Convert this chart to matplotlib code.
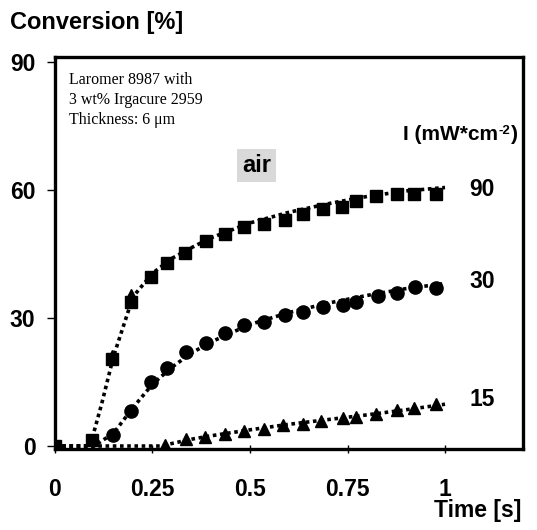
import matplotlib
matplotlib.use("Agg")
import matplotlib.pyplot as plt

plt.rcParams['font.family'] = ['Liberation Sans', 'DejaVu Sans']

# measured points (time in s, conversion in %)
t90 = [0.0, 0.094, 0.147, 0.194, 0.246, 0.286, 0.333, 0.387, 0.435, 0.484,
       0.536, 0.589, 0.636, 0.688, 0.735, 0.771, 0.824, 0.876, 0.921, 0.976]
c90 = [0.0, 1.3, 20.3, 33.8, 39.7, 43.0, 45.2, 48.0, 49.6, 51.4,
       52.0, 53.0, 54.4, 55.5, 56.1, 57.4, 58.6, 59.1, 59.1, 59.1]

t30 = [0.149, 0.196, 0.247, 0.286, 0.335, 0.387, 0.435, 0.484, 0.536,
       0.589, 0.636, 0.688, 0.739, 0.773, 0.829, 0.876, 0.924, 0.976]
c30 = [2.6, 8.3, 15.1, 18.4, 22.0, 24.1, 26.4, 28.4, 29.1,
       30.7, 31.5, 32.7, 33.0, 33.8, 35.2, 35.8, 37.2, 37.1]

t15 = [0.0, 0.147, 0.194, 0.282, 0.335, 0.384, 0.435, 0.484, 0.536, 0.584,
       0.636, 0.683, 0.739, 0.773, 0.824, 0.878, 0.921, 0.976]
c15 = [0.0, 21.0, 35.5, 0.2, 1.6, 2.0, 2.8, 3.6, 4.1, 4.9,
       5.2, 5.9, 6.5, 6.9, 7.5, 8.4, 8.8, 9.8]

# fitted curves (dotted)
fit_t90 = [0.0, 0.09, 0.12, 0.15, 0.2, 0.25, 0.3, 0.35, 0.4, 0.5, 0.6, 0.7, 0.8, 0.9, 1.0]
fit_c90 = [0.0, 0.0, 10.0, 21.0, 35.0, 40.5, 44.0, 46.5, 48.8, 52.3, 54.8, 56.8, 58.5, 59.8, 60.6]
fit_t30 = [0.0, 0.1, 0.15, 0.2, 0.25, 0.3, 0.35, 0.4, 0.5, 0.6, 0.7, 0.8, 0.9, 1.0]
fit_c30 = [0.0, 0.0, 3.0, 9.0, 14.5, 18.5, 21.8, 24.4, 28.5, 31.3, 33.5, 35.3, 36.9, 38.1]
fit_t15 = [0.0, 0.27, 0.3, 0.35, 0.4, 0.5, 0.6, 0.7, 0.8, 0.9, 1.0]
fit_c15 = [0.0, 0.0, 0.6, 1.6, 2.4, 3.8, 5.1, 6.2, 7.3, 8.5, 9.8]

intensities = ['90', '30', '15']
label_y = [60.2, 38.5, 10.8]

fig = plt.figure(figsize=(5.37, 5.30), dpi=100)
ax = fig.add_axes([0.1024, 0.1528, 0.8716, 0.7397])

dot = (0, (1.0, 1.0))
ax.plot(fit_t15, fit_c15, color='black', lw=2.6, ls=dot)
ax.plot(fit_t30, fit_c30, color='black', lw=2.6, ls=dot)
ax.plot(fit_t90, fit_c90, color='black', lw=2.6, ls=dot)
ax.plot(t90, c90, 's', color='black', ms=9, ls='none')
ax.plot(t30, c30, 'o', color='black', ms=9.5, ls='none')
ax.plot(t15, c15, '^', color='black', ms=9, ls='none')

ax.set_xlim(0, 1.2)
ax.set_ylim(-0.7, 91.2)
ax.set_xticks([0, 0.25, 0.5, 0.75, 1])
ax.set_xticklabels(['0', '0.25', '0.5', '0.75', '1'])
ax.set_yticks([0, 30, 60, 90])
ax.tick_params(axis='x', direction='inout', length=6, width=1, pad=18, labelsize=16.5)
ax.tick_params(axis='y', direction='out', length=6, width=1, pad=8, labelsize=16.5)
for lab in ax.get_xticklabels() + ax.get_yticklabels():
    lab.set_fontweight('bold')
for sp in ax.spines.values():
    sp.set_linewidth(2.4)

for name, yv in zip(intensities, label_y):
    ax.text(1.095, yv, name, fontsize=16.5, fontweight='bold', ha='center', va='center')

ax.text(0.035, 87.6, "Laromer 8987 with\n3 wt% Irgacure 2959\nThickness: 6 \u03bcm",
        family='Liberation Serif', fontsize=11.5, va='top', ha='left', linespacing=1.3)

# intensity header with small superscript
hdr = ax.text(0.893, 71.8, "I (mW*cm", fontsize=15, fontweight='bold', ha='left', va='baseline')
sup = ax.annotate("-2", xy=(1, 1), xycoords=hdr, xytext=(0.5, 0), textcoords='offset points',
                  fontsize=9.5, fontweight='bold', ha='left', va='top')
ax.annotate(")", xy=(1, 0), xycoords=(sup, hdr), fontsize=15, fontweight='bold',
            ha='left', va='bottom')

ax.text(0.517, 65.8, "air", fontsize=17, fontweight='bold', ha='center', va='center',
        bbox=dict(boxstyle='square,pad=0.22', fc='#d9d9d9', ec='none'))

fig.text(0.019, 0.957, "Conversion [%]", fontsize=17, fontweight='bold', ha='left', va='center')
fig.text(0.971, 0.036, "Time [s]", fontsize=16.5, fontweight='bold', ha='right', va='center')

fig.savefig("out.png", dpi=100)
